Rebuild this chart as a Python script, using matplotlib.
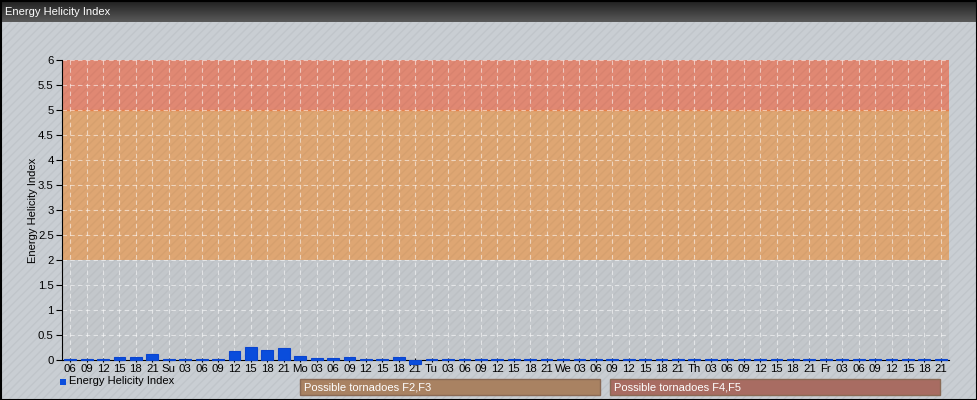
import numpy as np
import matplotlib
matplotlib.use("Agg")
import matplotlib.pyplot as plt
from matplotlib.patches import Rectangle

plt.rcParams['font.family'] = ['Liberation Sans', 'DejaVu Sans']
plt.rcParams['hatch.linewidth'] = 1.0

# カテゴリ (3時間ごと)
labels = ["06", "09", "12", "15", "18", "21"]
for day in ["Su", "Mo", "Tu", "We", "Th", "Fr"]:
    labels += [day, "03", "06", "09", "12", "15", "18", "21"]

# Energy Helicity Index の値
ehi = [0.03, 0.03, 0.02, 0.06, 0.06, 0.13,
       0.02, 0.02, 0.02, 0.02, 0.19, 0.26, 0.20, 0.25,
       0.09, 0.05, 0.04, 0.06, 0.02, 0.03, 0.06, -0.07,
       0.02, 0.02, 0.02, 0.02, 0.02, 0.03, 0.02, 0.02,
       0.02, 0.02, 0.02, 0.02, 0.02, 0.02, 0.02, 0.02,
       0.02, 0.02, 0.02, 0.02, 0.02, 0.03, 0.02, 0.02,
       0.02, 0.02, 0.02, 0.02, 0.02, 0.02, 0.03, 0.02]

yticks = [0, 0.5, 1, 1.5, 2, 2.5, 3, 3.5, 4, 4.5, 5, 5.5, 6]
ytick_labels = ["0", "0.5", "1", "1.5", "2", "2.5", "3", "3.5", "4", "4.5", "5", "5.5", "6"]

W, H = 978, 400
fig = plt.figure(figsize=(W / 100, H / 100), dpi=100)
fig.patch.set_facecolor("#c9ced3")

# 背景のストライプ
fig.patches.append(Rectangle((0, 0), 1, 1, transform=fig.transFigure,
                             facecolor="#c9ced3", edgecolor="#c0c5ca",
                             hatch="////", linewidth=0, zorder=-10))

# タイトルバー
tb = fig.add_axes([0, 1 - 22 / H, 1, 22 / H])
grad = np.linspace(0, 1, 50).reshape(-1, 1)
tb.imshow(grad, aspect="auto", cmap=matplotlib.colors.LinearSegmentedColormap.from_list(
    "tb", ["#1e1e1e", "#5a5a5a"]), extent=[0, 1, 0, 1])
tb.set_xlim(0, 1)
tb.set_ylim(0, 1)
tb.axis("off")
tb.text(5 / W, 0.45, "Energy Helicity Index", color="white", fontsize=8, va="center", ha="left")

# 外枠
fig.patches.append(Rectangle((0.5 / W, 0.5 / H), 1 - 1.5 / W, 1 - 1.5 / H, transform=fig.transFigure,
                             facecolor="none", edgecolor="black", linewidth=1.5, zorder=10))

ax = fig.add_axes([62 / W, 40 / H, 887 / W, 300 / H])
ax.set_facecolor("none")
x = np.arange(len(labels))

ax.axhspan(0, 2, facecolor="#c3c7cb", edgecolor="#bcc0c4", hatch="////", linewidth=0, zorder=0)
ax.axhspan(2, 5, facecolor="#dea673", edgecolor="#d6a06e", hatch="////", linewidth=0, zorder=0)
ax.axhspan(5, 6, facecolor="#e08873", edgecolor="#d8826e", hatch="////", linewidth=0, zorder=0)
ax.axhline(5, color="#e8804a", linewidth=1, zorder=1)

bars = ax.bar(x, ehi, width=0.72, color="#0a4ddc", edgecolor="#0a45d0", linewidth=0.8, zorder=6)
for b in bars:
    b.set_clip_on(False)

ax.set_xlim(-0.5, len(labels) - 0.5)
ax.set_ylim(0, 6)
ax.set_xticks(x)
ax.set_xticklabels(labels, fontsize=8.2)
ax.set_yticks(yticks)
ax.set_yticklabels(ytick_labels, fontsize=8.2)
ax.grid(True, color="white", alpha=0.55, linestyle=(0, (4, 3)), linewidth=0.8, zorder=2)
ax.set_axisbelow(False)
for s in ["top", "right"]:
    ax.spines[s].set_visible(False)
ax.spines["left"].set_zorder(5)
ax.spines["bottom"].set_zorder(5)
ax.tick_params(axis="y", length=4, pad=2)
ax.tick_params(axis="x", length=3, direction="inout", pad=1.5)
ax.set_ylabel("Energy Helicity Index", fontsize=8)
ax.yaxis.set_label_coords(-24 / 887, 0.5)

# 凡例
fig.patches.append(Rectangle((60 / W, 1 - 385 / H), 6 / W, 6 / H, transform=fig.transFigure,
                             facecolor="#0a4ddc", edgecolor="none"))
fig.text(69 / W, 1 - 381 / H, "Energy Helicity Index", fontsize=8, va="center", ha="left")

for x0, x1, fc, txt in [(300, 600, "#a98262", "Possible tornadoes F2,F3"),
                        (610, 940, "#a86c62", "Possible tornadoes F4,F5")]:
    fig.patches.append(Rectangle((x0 / W, 1 - 395 / H), (x1 - x0) / W, 16 / H,
                                 transform=fig.transFigure, facecolor=fc,
                                 edgecolor="#8a6a55", linewidth=1))
    fig.text((x0 + 4) / W, 1 - 387 / H, txt, fontsize=8, color="white", va="center", ha="left")

plt.savefig("out.png", dpi=100, facecolor=fig.get_facecolor())
